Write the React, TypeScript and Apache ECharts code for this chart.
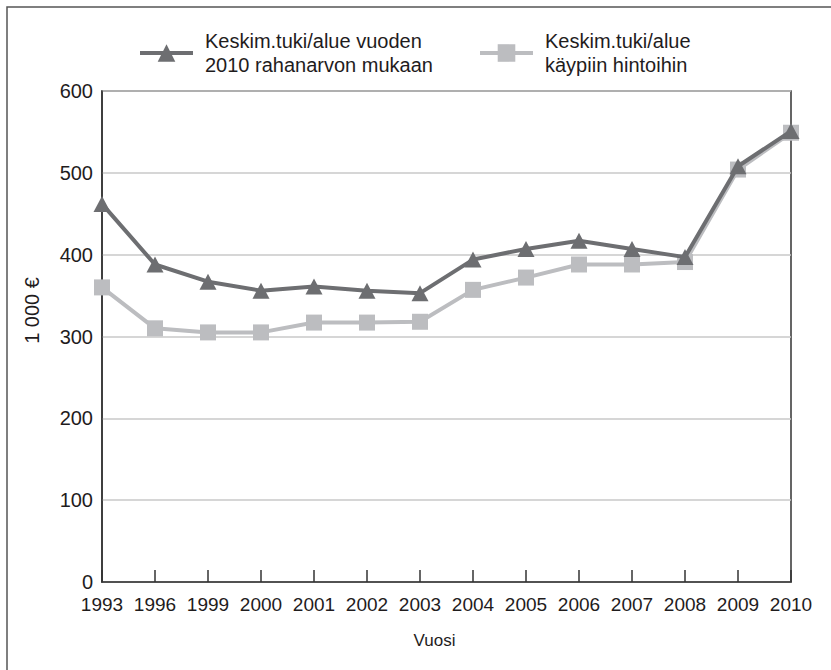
import React, { useEffect, useRef } from "react";
import * as echarts from "echarts";

const years = ["1993", "1996", "1999", "2000", "2001", "2002", "2003", "2004", "2005", "2006", "2007", "2008", "2009", "2010"];
const real2010 = [462, 388, 367, 356, 361, 356, 353, 394, 407, 417, 407, 397, 508, 551];
const nominal = [360, 310, 305, 305, 317, 317, 318, 357, 372, 388, 388, 391, 504, 549];
const yTicks = { min: 0, max: 600, interval: 100 };
const nameReal = "Keskim.tuki/alue vuoden\n2010 rahanarvon mukaan";
const nameNominal = "Keskim.tuki/alue\nkäypiin hintoihin";
const yAxisTitle = "1 000 €";
const xAxisTitle = "Vuosi";

const FONT = "Liberation Sans";
const DARK = "#6d6e71";
const LIGHT = "#bcbdc0";
const TEXT = "#1f1c1d";

export default function App() {
  const ref = useRef<HTMLDivElement>(null);
  useEffect(() => {
    document.body.style.margin = "0";
    const chart = echarts.init(ref.current!, null, { renderer: "svg" });
    const legendBase = {
      orient: "horizontal",
      padding: 0,
      itemWidth: 53,
      itemHeight: 22,
      lineStyle: { width: 4 },
      textStyle: { fontFamily: FONT, fontSize: 20, color: TEXT, lineHeight: 24, padding: [0, 0, 0, 7] },
    };
    chart.setOption({
      animation: false,
      backgroundColor: "#ffffff",
      textStyle: { fontFamily: FONT },
      legend: [
        { ...legendBase, data: [nameReal], left: 138, top: 29 },
        { ...legendBase, data: [nameNominal], left: 478, top: 29 },
      ],
      grid: {
        left: 102,
        right: 40,
        top: 91,
        bottom: 88,
        show: true,
        borderColor: "#333333",
        borderWidth: 1.5,
        backgroundColor: "transparent",
      },
      xAxis: {
        type: "category",
        data: years,
        boundaryGap: false,
        name: xAxisTitle,
        nameLocation: "middle",
        nameGap: 50,
        nameTextStyle: { fontFamily: FONT, fontSize: 17, color: TEXT, padding: [0, 24, 0, 0] },
        axisLine: { show: true, lineStyle: { color: "#333333", width: 1.5 } },
        axisTick: { show: true, inside: true, length: 12, lineStyle: { color: "#333333", width: 1.5 } },
        axisLabel: { fontFamily: FONT, fontSize: 19, color: TEXT, margin: 13, interval: 0 },
        splitLine: { show: false },
      },
      yAxis: {
        type: "value",
        min: yTicks.min,
        max: yTicks.max,
        interval: yTicks.interval,
        name: yAxisTitle,
        nameLocation: "middle",
        nameRotate: 90,
        nameGap: 60,
        nameTextStyle: { fontFamily: FONT, fontSize: 20, color: TEXT, padding: [0, 0, 0, 52] },
        axisLine: { show: true, lineStyle: { color: "#333333", width: 1.5 } },
        axisTick: { show: false },
        axisLabel: { fontFamily: FONT, fontSize: 20, color: TEXT, margin: 9 },
        splitLine: { show: true, lineStyle: { color: "#c8c8c8", width: 1.5 } },
      },
      graphic: [
        {
          type: "rect",
          silent: true,
          shape: { x: 7, y: 7, width: 1200, height: 1200 },
          style: { fill: "none", stroke: "#555555", lineWidth: 1.5 },
        },
      ],
      series: [
        {
          name: nameNominal,
          type: "line",
          data: nominal,
          symbol: "rect",
          symbolSize: 16,
          z: 2,
          lineStyle: { color: LIGHT, width: 4 },
          itemStyle: { color: LIGHT },
        },
        {
          name: nameReal,
          type: "line",
          data: real2010,
          symbol: "triangle",
          symbolSize: [17, 16],
          z: 3,
          lineStyle: { color: DARK, width: 4 },
          itemStyle: { color: DARK },
        },
      ],
    });
    return () => chart.dispose();
  }, []);
  return <div ref={ref} style={{ width: 831, height: 670 }} />;
}
